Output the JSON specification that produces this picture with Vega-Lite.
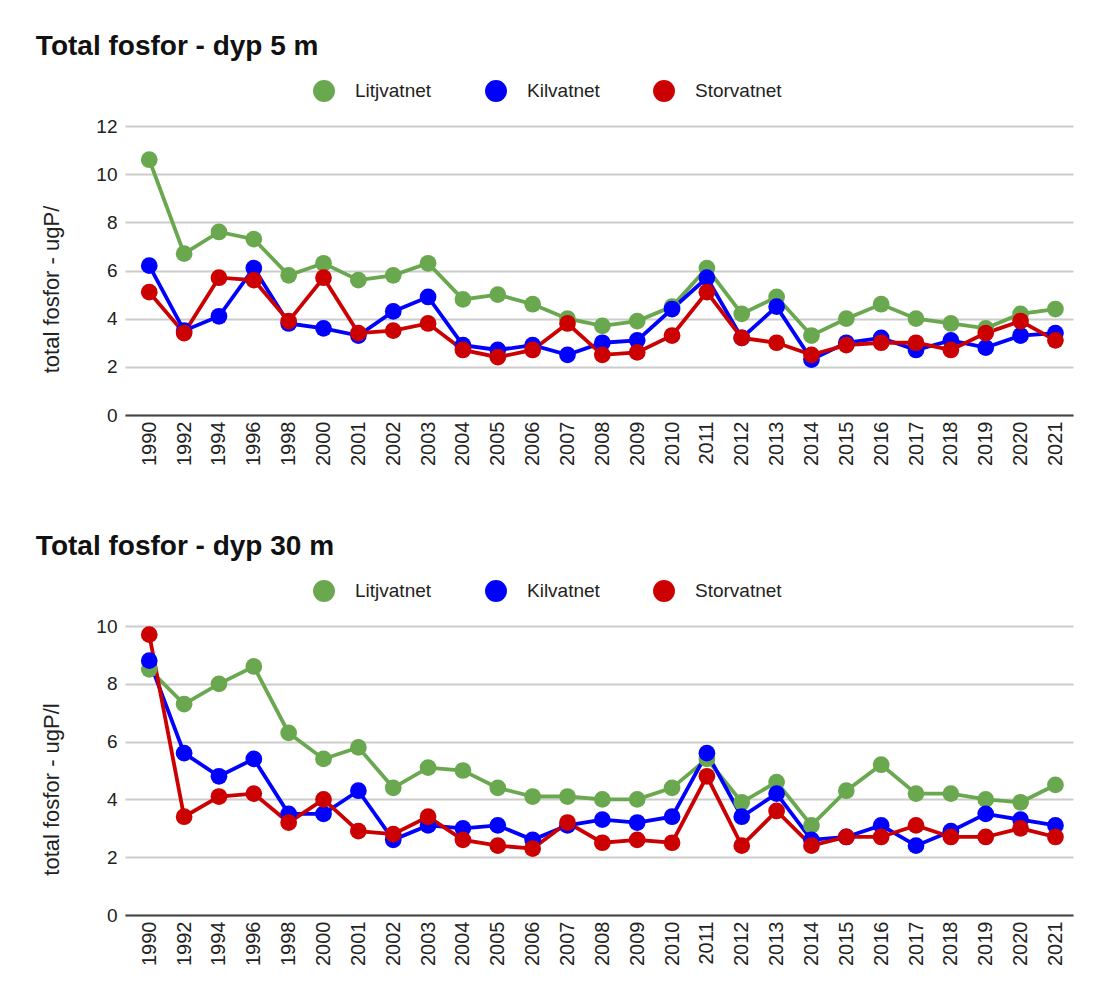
{
  "$schema": "https://vega.github.io/schema/vega-lite/v6.json",
  "background": "white",
  "padding": {"left": 35, "top": 33, "right": 10, "bottom": 5},
  "config": {
    "font": "Liberation Sans",
    "view": {"stroke": null},
    "axisX": {"title": null, "labelAngle": 270, "labelFontSize": 20, "labelColor": "#222", "domainColor": "#444", "domainWidth": 2, "ticks": false, "grid": false, "labelPadding": 6},
    "axisY": {"domain": false, "ticks": false, "gridColor": "#cccccc", "gridWidth": 1.8, "labelFontSize": 19, "labelColor": "#222", "labelPadding": 8, "titleFontSize": 22, "titleFontWeight": "normal", "titleColor": "#222", "titlePadding": 32, "titleY": 163},
    "title": {"anchor": "start", "fontSize": 28, "fontWeight": "bold", "color": "#111", "dx": -5, "offset": 19}
  },
  "datasets": {
    "fosfor": [
      {"year": "1990", "depth": "5 m", "lake": "Litjvatnet", "value": 10.6},
      {"year": "1992", "depth": "5 m", "lake": "Litjvatnet", "value": 6.7},
      {"year": "1994", "depth": "5 m", "lake": "Litjvatnet", "value": 7.6},
      {"year": "1996", "depth": "5 m", "lake": "Litjvatnet", "value": 7.3},
      {"year": "1998", "depth": "5 m", "lake": "Litjvatnet", "value": 5.8},
      {"year": "2000", "depth": "5 m", "lake": "Litjvatnet", "value": 6.3},
      {"year": "2001", "depth": "5 m", "lake": "Litjvatnet", "value": 5.6},
      {"year": "2002", "depth": "5 m", "lake": "Litjvatnet", "value": 5.8},
      {"year": "2003", "depth": "5 m", "lake": "Litjvatnet", "value": 6.3},
      {"year": "2004", "depth": "5 m", "lake": "Litjvatnet", "value": 4.8},
      {"year": "2005", "depth": "5 m", "lake": "Litjvatnet", "value": 5.0},
      {"year": "2006", "depth": "5 m", "lake": "Litjvatnet", "value": 4.6},
      {"year": "2007", "depth": "5 m", "lake": "Litjvatnet", "value": 4.0},
      {"year": "2008", "depth": "5 m", "lake": "Litjvatnet", "value": 3.7},
      {"year": "2009", "depth": "5 m", "lake": "Litjvatnet", "value": 3.9},
      {"year": "2010", "depth": "5 m", "lake": "Litjvatnet", "value": 4.5},
      {"year": "2011", "depth": "5 m", "lake": "Litjvatnet", "value": 6.1},
      {"year": "2012", "depth": "5 m", "lake": "Litjvatnet", "value": 4.2},
      {"year": "2013", "depth": "5 m", "lake": "Litjvatnet", "value": 4.9},
      {"year": "2014", "depth": "5 m", "lake": "Litjvatnet", "value": 3.3},
      {"year": "2015", "depth": "5 m", "lake": "Litjvatnet", "value": 4.0},
      {"year": "2016", "depth": "5 m", "lake": "Litjvatnet", "value": 4.6},
      {"year": "2017", "depth": "5 m", "lake": "Litjvatnet", "value": 4.0},
      {"year": "2018", "depth": "5 m", "lake": "Litjvatnet", "value": 3.8},
      {"year": "2019", "depth": "5 m", "lake": "Litjvatnet", "value": 3.6},
      {"year": "2020", "depth": "5 m", "lake": "Litjvatnet", "value": 4.2},
      {"year": "2021", "depth": "5 m", "lake": "Litjvatnet", "value": 4.4},
      {"year": "1990", "depth": "5 m", "lake": "Kilvatnet", "value": 6.2},
      {"year": "1992", "depth": "5 m", "lake": "Kilvatnet", "value": 3.5},
      {"year": "1994", "depth": "5 m", "lake": "Kilvatnet", "value": 4.1},
      {"year": "1996", "depth": "5 m", "lake": "Kilvatnet", "value": 6.1},
      {"year": "1998", "depth": "5 m", "lake": "Kilvatnet", "value": 3.8},
      {"year": "2000", "depth": "5 m", "lake": "Kilvatnet", "value": 3.6},
      {"year": "2001", "depth": "5 m", "lake": "Kilvatnet", "value": 3.3},
      {"year": "2002", "depth": "5 m", "lake": "Kilvatnet", "value": 4.3},
      {"year": "2003", "depth": "5 m", "lake": "Kilvatnet", "value": 4.9},
      {"year": "2004", "depth": "5 m", "lake": "Kilvatnet", "value": 2.9},
      {"year": "2005", "depth": "5 m", "lake": "Kilvatnet", "value": 2.7},
      {"year": "2006", "depth": "5 m", "lake": "Kilvatnet", "value": 2.9},
      {"year": "2007", "depth": "5 m", "lake": "Kilvatnet", "value": 2.5},
      {"year": "2008", "depth": "5 m", "lake": "Kilvatnet", "value": 3.0},
      {"year": "2009", "depth": "5 m", "lake": "Kilvatnet", "value": 3.1},
      {"year": "2010", "depth": "5 m", "lake": "Kilvatnet", "value": 4.4},
      {"year": "2011", "depth": "5 m", "lake": "Kilvatnet", "value": 5.7},
      {"year": "2012", "depth": "5 m", "lake": "Kilvatnet", "value": 3.2},
      {"year": "2013", "depth": "5 m", "lake": "Kilvatnet", "value": 4.5},
      {"year": "2014", "depth": "5 m", "lake": "Kilvatnet", "value": 2.3},
      {"year": "2015", "depth": "5 m", "lake": "Kilvatnet", "value": 3.0},
      {"year": "2016", "depth": "5 m", "lake": "Kilvatnet", "value": 3.2},
      {"year": "2017", "depth": "5 m", "lake": "Kilvatnet", "value": 2.7},
      {"year": "2018", "depth": "5 m", "lake": "Kilvatnet", "value": 3.1},
      {"year": "2019", "depth": "5 m", "lake": "Kilvatnet", "value": 2.8},
      {"year": "2020", "depth": "5 m", "lake": "Kilvatnet", "value": 3.3},
      {"year": "2021", "depth": "5 m", "lake": "Kilvatnet", "value": 3.4},
      {"year": "1990", "depth": "5 m", "lake": "Storvatnet", "value": 5.1},
      {"year": "1992", "depth": "5 m", "lake": "Storvatnet", "value": 3.4},
      {"year": "1994", "depth": "5 m", "lake": "Storvatnet", "value": 5.7},
      {"year": "1996", "depth": "5 m", "lake": "Storvatnet", "value": 5.6},
      {"year": "1998", "depth": "5 m", "lake": "Storvatnet", "value": 3.9},
      {"year": "2000", "depth": "5 m", "lake": "Storvatnet", "value": 5.7},
      {"year": "2001", "depth": "5 m", "lake": "Storvatnet", "value": 3.4},
      {"year": "2002", "depth": "5 m", "lake": "Storvatnet", "value": 3.5},
      {"year": "2003", "depth": "5 m", "lake": "Storvatnet", "value": 3.8},
      {"year": "2004", "depth": "5 m", "lake": "Storvatnet", "value": 2.7},
      {"year": "2005", "depth": "5 m", "lake": "Storvatnet", "value": 2.4},
      {"year": "2006", "depth": "5 m", "lake": "Storvatnet", "value": 2.7},
      {"year": "2007", "depth": "5 m", "lake": "Storvatnet", "value": 3.8},
      {"year": "2008", "depth": "5 m", "lake": "Storvatnet", "value": 2.5},
      {"year": "2009", "depth": "5 m", "lake": "Storvatnet", "value": 2.6},
      {"year": "2010", "depth": "5 m", "lake": "Storvatnet", "value": 3.3},
      {"year": "2011", "depth": "5 m", "lake": "Storvatnet", "value": 5.1},
      {"year": "2012", "depth": "5 m", "lake": "Storvatnet", "value": 3.2},
      {"year": "2013", "depth": "5 m", "lake": "Storvatnet", "value": 3.0},
      {"year": "2014", "depth": "5 m", "lake": "Storvatnet", "value": 2.5},
      {"year": "2015", "depth": "5 m", "lake": "Storvatnet", "value": 2.9},
      {"year": "2016", "depth": "5 m", "lake": "Storvatnet", "value": 3.0},
      {"year": "2017", "depth": "5 m", "lake": "Storvatnet", "value": 3.0},
      {"year": "2018", "depth": "5 m", "lake": "Storvatnet", "value": 2.7},
      {"year": "2019", "depth": "5 m", "lake": "Storvatnet", "value": 3.4},
      {"year": "2020", "depth": "5 m", "lake": "Storvatnet", "value": 3.9},
      {"year": "2021", "depth": "5 m", "lake": "Storvatnet", "value": 3.1},
      {"year": "1990", "depth": "30 m", "lake": "Litjvatnet", "value": 8.5},
      {"year": "1992", "depth": "30 m", "lake": "Litjvatnet", "value": 7.3},
      {"year": "1994", "depth": "30 m", "lake": "Litjvatnet", "value": 8.0},
      {"year": "1996", "depth": "30 m", "lake": "Litjvatnet", "value": 8.6},
      {"year": "1998", "depth": "30 m", "lake": "Litjvatnet", "value": 6.3},
      {"year": "2000", "depth": "30 m", "lake": "Litjvatnet", "value": 5.4},
      {"year": "2001", "depth": "30 m", "lake": "Litjvatnet", "value": 5.8},
      {"year": "2002", "depth": "30 m", "lake": "Litjvatnet", "value": 4.4},
      {"year": "2003", "depth": "30 m", "lake": "Litjvatnet", "value": 5.1},
      {"year": "2004", "depth": "30 m", "lake": "Litjvatnet", "value": 5.0},
      {"year": "2005", "depth": "30 m", "lake": "Litjvatnet", "value": 4.4},
      {"year": "2006", "depth": "30 m", "lake": "Litjvatnet", "value": 4.1},
      {"year": "2007", "depth": "30 m", "lake": "Litjvatnet", "value": 4.1},
      {"year": "2008", "depth": "30 m", "lake": "Litjvatnet", "value": 4.0},
      {"year": "2009", "depth": "30 m", "lake": "Litjvatnet", "value": 4.0},
      {"year": "2010", "depth": "30 m", "lake": "Litjvatnet", "value": 4.4},
      {"year": "2011", "depth": "30 m", "lake": "Litjvatnet", "value": 5.4},
      {"year": "2012", "depth": "30 m", "lake": "Litjvatnet", "value": 3.9},
      {"year": "2013", "depth": "30 m", "lake": "Litjvatnet", "value": 4.6},
      {"year": "2014", "depth": "30 m", "lake": "Litjvatnet", "value": 3.1},
      {"year": "2015", "depth": "30 m", "lake": "Litjvatnet", "value": 4.3},
      {"year": "2016", "depth": "30 m", "lake": "Litjvatnet", "value": 5.2},
      {"year": "2017", "depth": "30 m", "lake": "Litjvatnet", "value": 4.2},
      {"year": "2018", "depth": "30 m", "lake": "Litjvatnet", "value": 4.2},
      {"year": "2019", "depth": "30 m", "lake": "Litjvatnet", "value": 4.0},
      {"year": "2020", "depth": "30 m", "lake": "Litjvatnet", "value": 3.9},
      {"year": "2021", "depth": "30 m", "lake": "Litjvatnet", "value": 4.5},
      {"year": "1990", "depth": "30 m", "lake": "Kilvatnet", "value": 8.8},
      {"year": "1992", "depth": "30 m", "lake": "Kilvatnet", "value": 5.6},
      {"year": "1994", "depth": "30 m", "lake": "Kilvatnet", "value": 4.8},
      {"year": "1996", "depth": "30 m", "lake": "Kilvatnet", "value": 5.4},
      {"year": "1998", "depth": "30 m", "lake": "Kilvatnet", "value": 3.5},
      {"year": "2000", "depth": "30 m", "lake": "Kilvatnet", "value": 3.5},
      {"year": "2001", "depth": "30 m", "lake": "Kilvatnet", "value": 4.3},
      {"year": "2002", "depth": "30 m", "lake": "Kilvatnet", "value": 2.6},
      {"year": "2003", "depth": "30 m", "lake": "Kilvatnet", "value": 3.1},
      {"year": "2004", "depth": "30 m", "lake": "Kilvatnet", "value": 3.0},
      {"year": "2005", "depth": "30 m", "lake": "Kilvatnet", "value": 3.1},
      {"year": "2006", "depth": "30 m", "lake": "Kilvatnet", "value": 2.6},
      {"year": "2007", "depth": "30 m", "lake": "Kilvatnet", "value": 3.1},
      {"year": "2008", "depth": "30 m", "lake": "Kilvatnet", "value": 3.3},
      {"year": "2009", "depth": "30 m", "lake": "Kilvatnet", "value": 3.2},
      {"year": "2010", "depth": "30 m", "lake": "Kilvatnet", "value": 3.4},
      {"year": "2011", "depth": "30 m", "lake": "Kilvatnet", "value": 5.6},
      {"year": "2012", "depth": "30 m", "lake": "Kilvatnet", "value": 3.4},
      {"year": "2013", "depth": "30 m", "lake": "Kilvatnet", "value": 4.2},
      {"year": "2014", "depth": "30 m", "lake": "Kilvatnet", "value": 2.6},
      {"year": "2015", "depth": "30 m", "lake": "Kilvatnet", "value": 2.7},
      {"year": "2016", "depth": "30 m", "lake": "Kilvatnet", "value": 3.1},
      {"year": "2017", "depth": "30 m", "lake": "Kilvatnet", "value": 2.4},
      {"year": "2018", "depth": "30 m", "lake": "Kilvatnet", "value": 2.9},
      {"year": "2019", "depth": "30 m", "lake": "Kilvatnet", "value": 3.5},
      {"year": "2020", "depth": "30 m", "lake": "Kilvatnet", "value": 3.3},
      {"year": "2021", "depth": "30 m", "lake": "Kilvatnet", "value": 3.1},
      {"year": "1990", "depth": "30 m", "lake": "Storvatnet", "value": 9.7},
      {"year": "1992", "depth": "30 m", "lake": "Storvatnet", "value": 3.4},
      {"year": "1994", "depth": "30 m", "lake": "Storvatnet", "value": 4.1},
      {"year": "1996", "depth": "30 m", "lake": "Storvatnet", "value": 4.2},
      {"year": "1998", "depth": "30 m", "lake": "Storvatnet", "value": 3.2},
      {"year": "2000", "depth": "30 m", "lake": "Storvatnet", "value": 4.0},
      {"year": "2001", "depth": "30 m", "lake": "Storvatnet", "value": 2.9},
      {"year": "2002", "depth": "30 m", "lake": "Storvatnet", "value": 2.8},
      {"year": "2003", "depth": "30 m", "lake": "Storvatnet", "value": 3.4},
      {"year": "2004", "depth": "30 m", "lake": "Storvatnet", "value": 2.6},
      {"year": "2005", "depth": "30 m", "lake": "Storvatnet", "value": 2.4},
      {"year": "2006", "depth": "30 m", "lake": "Storvatnet", "value": 2.3},
      {"year": "2007", "depth": "30 m", "lake": "Storvatnet", "value": 3.2},
      {"year": "2008", "depth": "30 m", "lake": "Storvatnet", "value": 2.5},
      {"year": "2009", "depth": "30 m", "lake": "Storvatnet", "value": 2.6},
      {"year": "2010", "depth": "30 m", "lake": "Storvatnet", "value": 2.5},
      {"year": "2011", "depth": "30 m", "lake": "Storvatnet", "value": 4.8},
      {"year": "2012", "depth": "30 m", "lake": "Storvatnet", "value": 2.4},
      {"year": "2013", "depth": "30 m", "lake": "Storvatnet", "value": 3.6},
      {"year": "2014", "depth": "30 m", "lake": "Storvatnet", "value": 2.4},
      {"year": "2015", "depth": "30 m", "lake": "Storvatnet", "value": 2.7},
      {"year": "2016", "depth": "30 m", "lake": "Storvatnet", "value": 2.7},
      {"year": "2017", "depth": "30 m", "lake": "Storvatnet", "value": 3.1},
      {"year": "2018", "depth": "30 m", "lake": "Storvatnet", "value": 2.7},
      {"year": "2019", "depth": "30 m", "lake": "Storvatnet", "value": 2.7},
      {"year": "2020", "depth": "30 m", "lake": "Storvatnet", "value": 3.0},
      {"year": "2021", "depth": "30 m", "lake": "Storvatnet", "value": 2.7}
    ]
  },
  "spacing": 67,
  "resolve": {"legend": {"color": "independent"}},
  "vconcat": [
    {
      "title": {"text": "Total fosfor - dyp 5 m"},
      "width": 948,
      "height": 289,
      "data": {"name": "fosfor"},
      "transform": [{"filter": "datum.depth === '5 m'"}],
      "encoding": {
        "x": {"field": "year", "type": "ordinal", "scale": {"type": "point", "padding": 0.6, "align": 0.58}},
        "y": {"field": "value", "type": "quantitative", "scale": {"domain": [0, 12]}, "axis": {"values": [0, 2, 4, 6, 8, 10, 12], "title": "total fosfor - ugP/"}},
        "color": {"field": "lake", "type": "nominal", "sort": ["Litjvatnet", "Kilvatnet", "Storvatnet"],
          "scale": {"domain": ["Litjvatnet", "Kilvatnet", "Storvatnet"], "range": ["#6aa84f", "#0000ff", "#cc0000"]},
          "legend": {"title": null, "orient": "none", "legendX": 188, "legendY": -46, "direction": "horizontal", "symbolType": "circle", "symbolSize": 480, "symbolStrokeWidth": 0, "labelFontSize": 19, "labelColor": "#222", "labelOffset": 20, "columnPadding": 53,
            "encode": {"symbols": {"update": {"fill": {"scale": "color", "field": "value"}, "opacity": {"value": 1}}}}}
        }
      },
      "layer": [
        {"mark": {"type": "line", "strokeWidth": 3.8}},
        {"mark": {"type": "point", "filled": true, "size": 280, "opacity": 1}}
      ]
    },
    {
      "title": {"text": "Total fosfor - dyp 30 m"},
      "width": 948,
      "height": 289,
      "data": {"name": "fosfor"},
      "transform": [{"filter": "datum.depth === '30 m'"}],
      "encoding": {
        "x": {"field": "year", "type": "ordinal", "scale": {"type": "point", "padding": 0.6, "align": 0.58}},
        "y": {"field": "value", "type": "quantitative", "scale": {"domain": [0, 10]}, "axis": {"values": [0, 2, 4, 6, 8, 10], "title": "total fosfor - ugP/l"}},
        "color": {"field": "lake", "type": "nominal", "sort": ["Litjvatnet", "Kilvatnet", "Storvatnet"],
          "scale": {"domain": ["Litjvatnet", "Kilvatnet", "Storvatnet"], "range": ["#6aa84f", "#0000ff", "#cc0000"]},
          "legend": {"title": null, "orient": "none", "legendX": 188, "legendY": -46, "direction": "horizontal", "symbolType": "circle", "symbolSize": 480, "symbolStrokeWidth": 0, "labelFontSize": 19, "labelColor": "#222", "labelOffset": 20, "columnPadding": 53,
            "encode": {"symbols": {"update": {"fill": {"scale": "color", "field": "value"}, "opacity": {"value": 1}}}}}
        }
      },
      "layer": [
        {"mark": {"type": "line", "strokeWidth": 3.8}},
        {"mark": {"type": "point", "filled": true, "size": 280, "opacity": 1}}
      ]
    }
  ]
}
